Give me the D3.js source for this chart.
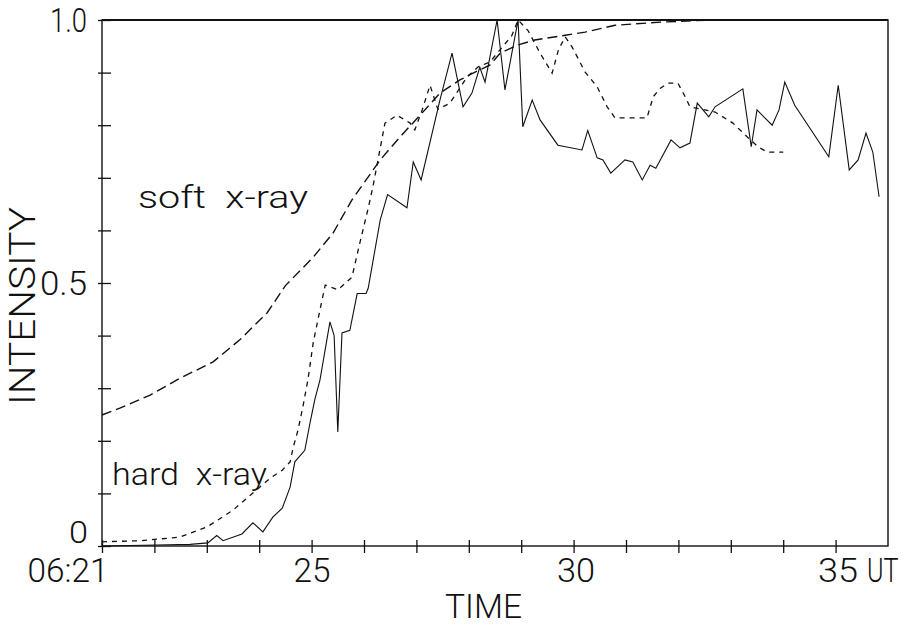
<!DOCTYPE html>
<html>
<head>
<meta charset="utf-8">
<script src="https://cdn.jsdelivr.net/npm/d3@7"></script>
<style>
  html, body { margin: 0; padding: 0; background: #fff; }
  svg text { font-family: "Roboto", "DejaVu Sans Condensed", sans-serif; font-weight: 300; fill: #111; }
</style>
</head>
<body>
<svg id="chart" width="908" height="625"></svg>
<script>
// ---- data (minutes after 06:00 UT, normalised intensity) ----
const softTime = [21.0, 21.34, 21.92, 22.49, 23.12, 23.63, 24.15, 24.5, 25.03, 25.41, 25.77, 26.31, 26.69, 27.07, 27.45, 27.83, 28.12, 28.4, 28.6, 28.92, 29.26, 29.84, 30.22, 30.79, 31.65, 32.66, 36.0];
const softValue = [0.249, 0.262, 0.287, 0.319, 0.35, 0.392, 0.443, 0.495, 0.549, 0.595, 0.658, 0.734, 0.778, 0.819, 0.861, 0.886, 0.901, 0.914, 0.937, 0.952, 0.962, 0.971, 0.977, 0.99, 0.996, 1.0, 1.0];

const hardTime = [21.0, 22.05, 22.68, 23.02, 23.19, 23.31, 23.67, 23.88, 24.07, 24.26, 24.44, 24.59, 24.68, 24.74, 24.87, 24.97, 25.06, 25.16, 25.35, 25.43, 25.5, 25.58, 25.73, 25.87, 26.04, 26.08, 26.31, 26.45, 26.82, 26.94, 27.09, 27.45, 27.68, 27.89, 28.06, 28.21, 28.31, 28.54, 28.69, 28.94, 29.03, 29.21, 29.36, 29.7, 30.16, 30.27, 30.45, 30.56, 30.71, 30.98, 31.13, 31.31, 31.46, 31.57, 31.86, 32.03, 32.22, 32.36, 32.58, 32.7, 33.23, 33.39, 33.5, 33.65, 33.79, 33.92, 34.03, 34.22, 34.87, 35.05, 35.26, 35.43, 35.58, 35.71, 35.83];
const hardValue = [0.0, 0.002, 0.003, 0.006, 0.02, 0.01, 0.023, 0.044, 0.027, 0.055, 0.072, 0.112, 0.16, 0.167, 0.182, 0.234, 0.278, 0.316, 0.426, 0.4, 0.217, 0.405, 0.41, 0.48, 0.48, 0.49, 0.62, 0.668, 0.643, 0.73, 0.696, 0.848, 0.937, 0.835, 0.861, 0.91, 0.882, 1.0, 0.867, 1.0, 0.797, 0.848, 0.81, 0.762, 0.753, 0.79, 0.738, 0.734, 0.709, 0.734, 0.73, 0.696, 0.724, 0.718, 0.772, 0.757, 0.766, 0.842, 0.816, 0.835, 0.869, 0.759, 0.829, 0.814, 0.80, 0.829, 0.882, 0.838, 0.74, 0.876, 0.715, 0.734, 0.785, 0.749, 0.664];

const hard2Time = [21.0, 21.73, 22.49, 23.0, 23.5, 24.21, 24.44, 24.59, 24.65, 24.74, 24.84, 24.93, 25.03, 25.16, 25.26, 25.5, 25.77, 25.92, 26.08, 26.17, 26.4, 26.63, 26.88, 26.97, 27.11, 27.26, 27.41, 27.64, 27.97, 28.18, 28.4, 28.82, 28.94, 29.13, 29.36, 29.59, 29.71, 29.84, 29.97, 30.22, 30.45, 30.64, 30.79, 31.4, 31.52, 31.65, 31.8, 31.99, 32.13, 32.22, 32.47, 32.7, 33.04, 33.31, 33.52, 33.69, 34.0];
const hard2Value = [0.008, 0.01, 0.017, 0.036, 0.068, 0.129, 0.144, 0.16, 0.188, 0.22, 0.268, 0.316, 0.386, 0.449, 0.496, 0.487, 0.511, 0.576, 0.642, 0.683, 0.804, 0.819, 0.804, 0.791, 0.829, 0.876, 0.83, 0.842, 0.892, 0.911, 0.92, 0.97, 1.0, 0.98, 0.937, 0.899, 0.943, 0.968, 0.949, 0.901, 0.873, 0.835, 0.814, 0.814, 0.854, 0.87, 0.88, 0.88, 0.854, 0.835, 0.83, 0.825, 0.804, 0.778, 0.759, 0.749, 0.749];

const xTicks = [21, 22, 23, 24, 25, 26, 27, 28, 29, 30, 31, 32, 33, 34, 35];
const xTickLabels = {21: "06:21", 25: "25", 30: "30", 35: "35"};
const yTicks = [0, 0.1, 0.2, 0.3, 0.4, 0.5, 0.6, 0.7, 0.8, 0.9, 1.0];
const yTickLabels = {0: "0", 0.5: "0.5", 1: "1.0"};

// ---- layout ----
const svg = d3.select("#chart");
const x = d3.scaleLinear().domain([21, 36]).range([102, 888]);
const y = d3.scaleLinear().domain([0, 1]).range([546, 20]);
const ink = "#111";

// frame
svg.append("rect")
  .attr("x", x(21)).attr("y", y(1))
  .attr("width", x(36) - x(21)).attr("height", y(0) - y(1))
  .attr("fill", "none").attr("stroke", ink).attr("stroke-width", 1.4);
svg.append("line").attr("x1", x(21)).attr("x2", x(36)).attr("y1", y(1)).attr("y2", y(1))
  .attr("stroke", ink).attr("stroke-width", 2);

// x ticks (crossing the axis)
const xLabelWidth = {21: 81, 25: 37, 30: 38, 35: 40};
const xLabelShift = {21: 6, 25: 0, 30: 2, 35: 2};
const gx = svg.append("g").attr("transform", `translate(0,${y(0)})`)
  .call(d3.axisBottom(x).tickValues(xTicks).tickSize(7).tickPadding(4)
    .tickFormat(d => xTickLabels[d] || ""));
gx.select(".domain").remove();
gx.selectAll(".tick line").attr("stroke", ink).attr("stroke-width", 1.3);
gx.selectAll(".tick text")
  .style("font-size", "34px")
  .attr("dy", "0.74em")
  .attr("text-anchor", d => d === 21 ? "end" : "middle")
  .attr("dx", d => xLabelShift[d] || 0)
  .each(function (d) {
    if (xLabelWidth[d]) d3.select(this).attr("textLength", xLabelWidth[d]).attr("lengthAdjust", "spacingAndGlyphs");
  });
const gx2 = svg.append("g").attr("transform", `translate(0,${y(0)})`)
  .call(d3.axisTop(x).tickValues(xTicks).tickSize(6).tickFormat(""));
gx2.select(".domain").remove();
gx2.selectAll(".tick line").attr("stroke", ink).attr("stroke-width", 1.3);

// y ticks (crossing the axis)
const yLabelWidth = {0: 19, 0.5: 47, 1: 37};
const gy = svg.append("g").attr("transform", `translate(${x(21)},0)`)
  .call(d3.axisLeft(y).tickValues(yTicks).tickSize(4).tickPadding(11)
    .tickFormat(d => yTickLabels[d] !== undefined ? yTickLabels[d] : ""));
gy.select(".domain").remove();
gy.selectAll(".tick line").attr("stroke", ink).attr("stroke-width", 1.3);
gy.selectAll(".tick text")
  .style("font-size", d => d === 0 ? "32px" : "33px")
  .attr("dy", d => d === 0 ? "-0.1em" : "0.35em")
  .attr("dx", d => d === 0 ? 1 : 0)
  .each(function (d) {
    if (yLabelWidth[d] !== undefined) d3.select(this).attr("textLength", yLabelWidth[d]).attr("lengthAdjust", "spacingAndGlyphs");
  });
const gy2 = svg.append("g").attr("transform", `translate(${x(21)},0)`)
  .call(d3.axisRight(y).tickValues(yTicks).tickSize(9).tickFormat(""));
gy2.select(".domain").remove();
gy2.selectAll(".tick line").attr("stroke", ink).attr("stroke-width", 1.3);

// axis titles
svg.append("text").attr("transform", `translate(867,${y(0) + 36}) scale(0.74,1)`)
  .style("font-size", "34px").text("UT");
svg.append("text").attr("x", 445).attr("y", 618)
  .style("font-size", "34px").attr("textLength", 77).attr("lengthAdjust", "spacingAndGlyphs").text("TIME");
svg.append("text").attr("transform", "translate(35,405) rotate(-90)")
  .style("font-size", "37px").attr("textLength", 198).attr("lengthAdjust", "spacingAndGlyphs").text("INTENSITY");

// lines
const line = d3.line().x(d => x(d[0])).y(d => y(d[1]));
const plot = svg.append("g");
plot.append("path").datum(softTime.map((t, i) => [t, softValue[i]]))
  .attr("d", line).attr("fill", "none").attr("stroke", ink)
  .attr("stroke-width", 1.4).attr("stroke-dasharray", "10,5");
plot.append("path").datum(hard2Time.map((t, i) => [t, hard2Value[i]]))
  .attr("d", line).attr("fill", "none").attr("stroke", ink)
  .attr("stroke-width", 1.3).attr("stroke-dasharray", "5,5");
plot.append("path").datum(hardTime.map((t, i) => [t, hardValue[i]]))
  .attr("d", line).attr("fill", "none").attr("stroke", ink)
  .attr("stroke-width", 1.1);

// annotations
svg.append("text").attr("x", 138).attr("y", 208).style("font-size", "31px").style("white-space", "pre")
  .attr("textLength", 170).attr("lengthAdjust", "spacingAndGlyphs").text("soft  x-ray");
svg.append("text").attr("x", 112).attr("y", 485).style("font-size", "31px").style("white-space", "pre")
  .attr("textLength", 155).attr("lengthAdjust", "spacingAndGlyphs").text("hard  x-ray");
</script>
</body>
</html>
